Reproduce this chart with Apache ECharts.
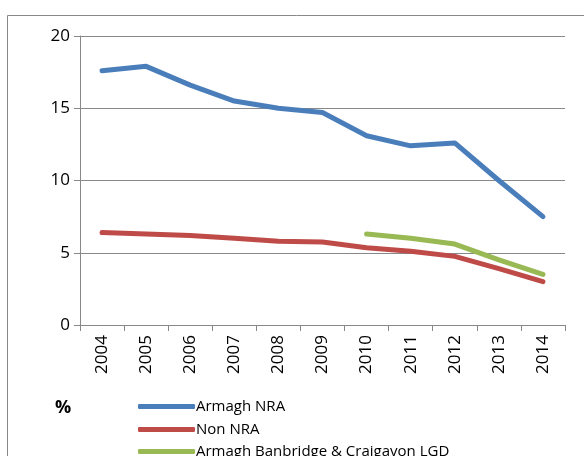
<!DOCTYPE html>
<html>
<head>
<meta charset="utf-8">
<script src="https://cdn.jsdelivr.net/npm/echarts@6/dist/echarts.min.js"></script>
<style>
  html, body { margin: 0; padding: 0; background: #fff; }
  #chart { width: 584px; height: 456px; }
</style>
</head>
<body>
<div id="chart"></div>
<script>
// data
var years = ['2004', '2005', '2006', '2007', '2008', '2009', '2010', '2011', '2012', '2013', '2014'];
var armaghNRA = [17.6, 17.9, 16.6, 15.5, 15.0, 14.7, 13.1, 12.4, 12.6, 10.0, 7.5];
var nonNRA = [6.4, 6.3, 6.2, 6.0, 5.8, 5.75, 5.35, 5.1, 4.75, 3.9, 3.0];
var lgd = [null, null, null, null, null, null, 6.3, 6.0, 5.6, 4.5, 3.5];
var seriesNames = ['Armagh NRA', 'Non NRA', 'Armagh Banbridge & Craigavon LGD'];
var colors = ['#4A7EBB', '#BE4B48', '#98B954'];
var legendTops = [399, 422, 444];

var font = '"Open Sans", "DejaVu Sans", sans-serif';
var chart = echarts.init(document.getElementById('chart'), null, { renderer: 'canvas' });

function lineSeries(name, data, color) {
  return {
    name: name,
    type: 'line',
    data: data,
    symbol: 'none',
    connectNulls: false,
    lineStyle: { width: 5, color: color, cap: 'round', join: 'round' },
    itemStyle: { color: color }
  };
}

// one legend per entry so the column can run off the bottom like the original
var legends = seriesNames.map(function(name, i) {
  return {
    orient: 'vertical',
    left: 138,
    top: legendTops[i],
    padding: 0,
    itemWidth: 57,
    itemHeight: 5,
    icon: 'roundRect',
    data: [name],
    textStyle: { color: '#000', fontSize: 15, fontFamily: font, padding: [0, 0, 0, -4] }
  };
});

chart.setOption({
  animation: false,
  backgroundColor: '#fff',
  graphic: [
    {
      type: 'rect',
      shape: { x: 7.5, y: 15.5, width: 600, height: 460 },
      style: { fill: 'none', stroke: '#888', lineWidth: 1 }
    },
    {
      type: 'text',
      left: 55, top: 399,
      style: { text: '%', font: 'bold 18px ' + font, fill: '#000' }
    }
  ],
  legend: legends,
  grid: { left: 80, right: 19, top: 36, bottom: 131, containLabel: false },
  xAxis: {
    type: 'category',
    data: years,
    boundaryGap: true,
    axisLine: { lineStyle: { color: '#888', width: 1 } },
    axisTick: { show: true, length: 6, alignWithLabel: false, lineStyle: { color: '#888' } },
    axisLabel: { rotate: 90, color: '#000', fontSize: 17, fontFamily: font, margin: 10, interval: 0 }
  },
  yAxis: {
    type: 'value',
    min: 0, max: 20, interval: 5,
    axisLine: { show: true, lineStyle: { color: '#888', width: 1 } },
    axisTick: { show: true, length: 6, lineStyle: { color: '#888' } },
    axisLabel: { color: '#000', fontSize: 17, fontFamily: font, margin: 10 },
    splitLine: { lineStyle: { color: '#888', width: 1 } }
  },
  series: [
    lineSeries(seriesNames[0], armaghNRA, colors[0]),
    lineSeries(seriesNames[1], nonNRA, colors[1]),
    lineSeries(seriesNames[2], lgd, colors[2])
  ]
});
</script>
</body>
</html>
